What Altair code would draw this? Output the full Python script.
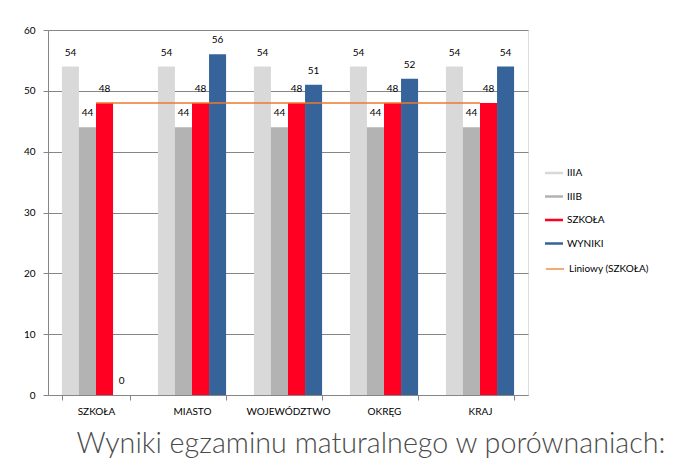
import altair as alt
import pandas as pd

categories = ["SZKOŁA", "MIASTO", "WOJEWÓDZTWO", "OKRĘG", "KRAJ"]
series = ["IIIA", "IIIB", "SZKOŁA", "WYNIKI"]
iiia = [54, 54, 54, 54, 54]
iiib = [44, 44, 44, 44, 44]
szkola = [48, 48, 48, 48, 48]
wyniki = [0, 56, 51, 52, 54]
colors = ["#D9D9D9", "#B3B3B3", "#FF0022", "#36649A"]
trend_label = "Liniowy  (SZKOŁA)"

rows = []
for s, vals in zip(series, [iiia, iiib, szkola, wyniki]):
    for c, v in zip(categories, vals):
        rows.append({"kat": c, "seria": s, "wartosc": v})
df = pd.DataFrame(rows)
trend = pd.DataFrame({"kat": categories, "wartosc": szkola, "nazwa": [trend_label] * len(categories)})

FONT = "Lato"

x_enc = alt.X("kat:N", sort=categories, title=None,
              scale=alt.Scale(paddingInner=0.29, paddingOuter=0.145),
              axis=alt.Axis(labelAngle=0, tickBand="extent", domainColor="#868686",
                            tickColor="#868686", tickSize=5, labelFontSize=10,
                            labelColor="#000000", labelFont=FONT, labelPadding=6))
y_enc = alt.Y("wartosc:Q", title=None,
              scale=alt.Scale(domain=[0, 60], nice=False),
              axis=alt.Axis(values=[0, 10, 20, 30, 40, 50, 60], grid=True, gridColor="#868686",
                            domainColor="#868686", tickColor="#868686", tickSize=5,
                            labelFontSize=10, labelColor="#000000", labelFont=FONT, labelPadding=8))
xoff = alt.XOffset("seria:N", sort=series, scale=alt.Scale(domain=series, paddingInner=0, paddingOuter=0))

base = alt.Chart(df)
bars = base.mark_bar().encode(
    x=x_enc, y=y_enc, xOffset=xoff,
    color=alt.Color("seria:N", sort=series,
                    scale=alt.Scale(domain=series, range=colors),
                    legend=alt.Legend(title=None, orient="none", legendX=497, legendY=134,
                                      symbolType="M-1,-0.14H1V0.14H-1Z", symbolSize=324,
                                      symbolStrokeWidth=0, rowPadding=9.5,
                                      labelFontSize=10, labelFont=FONT, labelColor="#000000",
                                      labelOffset=4)),
)
labels = base.mark_text(baseline="bottom", dy=-9, fontSize=10, font=FONT, color="#000000").encode(
    x=alt.X("kat:N", sort=categories), y="wartosc:Q", xOffset=xoff, text="wartosc:Q"
)
line = alt.Chart(trend).mark_line(strokeWidth=1.3).encode(
    x=alt.X("kat:N", sort=categories),
    y="wartosc:Q",
    stroke=alt.Stroke("nazwa:N", scale=alt.Scale(domain=[trend_label], range=["#EE7A2C"]),
                      legend=alt.Legend(title=None, orient="none", legendX=497, legendY=229,
                                        symbolType="stroke", symbolSize=324, symbolStrokeWidth=1.3,
                                        labelFontSize=10, labelFont=FONT, labelColor="#000000",
                                        labelOffset=4)),
)

chart = alt.layer(bars, labels, line).resolve_scale(color="independent").properties(
    width=480, height=365,
    autosize=alt.AutoSizeParams(type="none"),
    padding={"left": 48, "top": 30, "right": 168, "bottom": 71},
    title=alt.TitleParams("Wyniki egzaminu maturalnego w porównaniach:", orient="bottom",
                          anchor="start", dx=53, offset=14, fontSize=28.7, font=FONT,
                          fontWeight=300, color="#4A4A4A"),
).configure_view(stroke=None).configure(background="#FFFFFF")

chart.save("out.html", embed_options={"renderer": "svg", "actions": False})
